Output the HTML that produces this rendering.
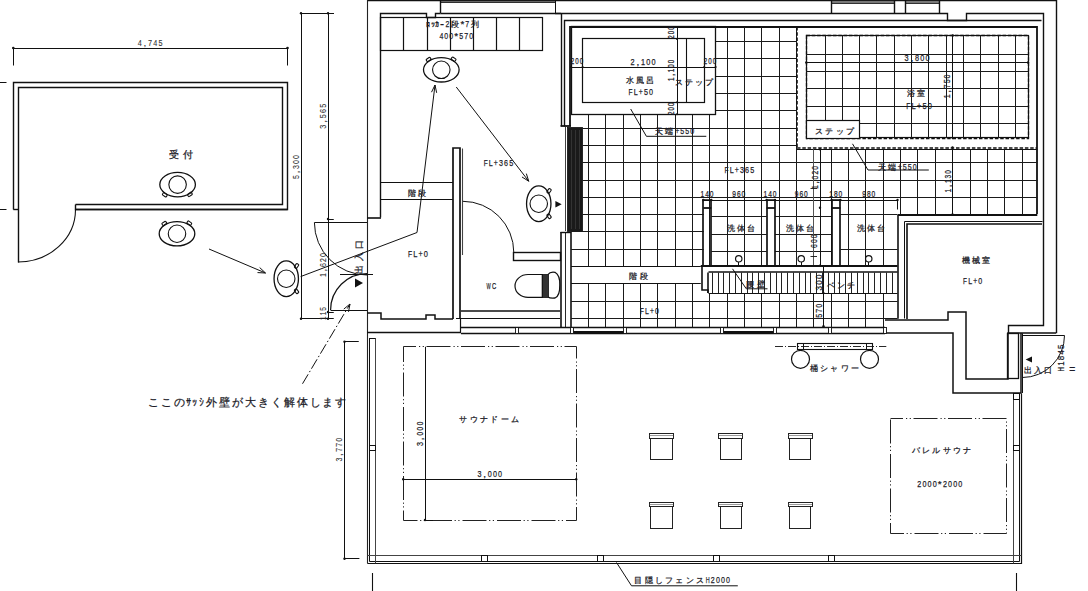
<!DOCTYPE html>
<html><head><meta charset="utf-8"><style>
html,body{margin:0;padding:0;background:#fff;}
svg{display:block;}
text{font-family:"Liberation Sans",sans-serif;}
</style></head><body>
<svg width="1088" height="591" viewBox="0 0 1088 591">
<rect width="1088" height="591" fill="#fff"/>
<line x1="13.3" y1="48.5" x2="287.5" y2="48.5" stroke="#111" stroke-width="1.0" />
<line x1="13.5" y1="48" x2="13.5" y2="65.5" stroke="#111" stroke-width="1.0" />
<line x1="287.5" y1="48" x2="287.5" y2="65.5" stroke="#111" stroke-width="1.0" />
<circle cx="13.3" cy="48" r="1.3" fill="#111"/>
<circle cx="287.5" cy="48" r="1.3" fill="#111"/>
<text x="150.1" y="46.09" font-size="9.97" fill="#333" stroke="#333" stroke-width="0.1" font-weight="normal" ><tspan x="137.70" font-size="9.97" textLength="4.05" lengthAdjust="spacingAndGlyphs">4</tspan><tspan x="143.53" font-size="9.97" textLength="2.77" lengthAdjust="spacingAndGlyphs">,</tspan><tspan x="148.08" font-size="9.97" textLength="4.05" lengthAdjust="spacingAndGlyphs">7</tspan><tspan x="153.26" font-size="9.97" textLength="4.05" lengthAdjust="spacingAndGlyphs">4</tspan><tspan x="158.45" font-size="9.97" textLength="4.05" lengthAdjust="spacingAndGlyphs">5</tspan></text>
<line x1="0" y1="82.5" x2="6.5" y2="82.5" stroke="#111" stroke-width="1.0" />
<line x1="0" y1="209.5" x2="6.5" y2="209.5" stroke="#111" stroke-width="1.0" />
<path d="M 13.5,209.5 V 82.5 H 287.5 V 209.5 H 75.5 V 204.5" stroke="#111" stroke-width="1.4" fill="none" />
<path d="M 18.5,262.5 V 87.5 H 282.5 V 204.5 H 75.5" stroke="#111" stroke-width="1.4" fill="none" />
<path d="M 75.5,209.5 H 287.5" stroke="#111" stroke-width="1.4" fill="none" />
<line x1="13.3" y1="209.5" x2="18" y2="209.5" stroke="#111" stroke-width="1.4" />
<path d="M75.5,209.4 A57.5,52.6 0 0 1 18,262" stroke="#111" stroke-width="1.1" fill="none" />
<text x="181.25" y="158.18" font-size="12.6" fill="#1c1c28" stroke="#1c1c28" stroke-width="0.25" font-weight="normal" ><tspan x="169.25" font-size="10.2">受</tspan><tspan x="183.05" font-size="10.2">付</tspan></text>
<rect x="162.50" y="193.40" width="4.6" height="2.8" rx="0.8" stroke="#111" stroke-width="1.1" fill="#fff" transform="rotate(35 164.79999999999998 194.79999999999998)"/>
<rect x="187.60" y="193.00" width="4.6" height="2.8" rx="0.8" stroke="#111" stroke-width="1.1" fill="#fff" transform="rotate(-35 189.9 194.4)"/>
<ellipse cx="177.6" cy="184.6" rx="17.8" ry="12.2" stroke="#111" stroke-width="1.3" fill="none"/>
<circle cx="177.6" cy="184.6" r="8.75" stroke="#111" stroke-width="1.1" fill="none"/>
<rect x="162.00" y="222.05" width="4.6" height="2.8" rx="0.8" stroke="#111" stroke-width="1.1" fill="#fff" transform="rotate(-35 164.3 223.45)"/>
<rect x="187.00" y="221.75" width="4.6" height="2.8" rx="0.8" stroke="#111" stroke-width="1.1" fill="#fff" transform="rotate(35 189.3 223.15)"/>
<ellipse cx="177" cy="233.75" rx="17.8" ry="12.2" stroke="#111" stroke-width="1.3" fill="none"/>
<circle cx="177" cy="233.75" r="8.75" stroke="#111" stroke-width="1.1" fill="none"/>
<line x1="209" y1="249" x2="265.5" y2="273" stroke="#111" stroke-width="1.0" />
<line x1="265.5" y1="273" x2="259.66" y2="267.54" stroke="#111" stroke-width="1.0" />
<line x1="265.5" y1="273" x2="257.51" y2="272.59" stroke="#111" stroke-width="1.0" />
<rect x="294.25" y="264.55" width="4.6" height="2.8" rx="0.8" stroke="#111" stroke-width="1.1" fill="#fff" transform="rotate(-55 296.55 265.95)"/>
<rect x="294.25" y="289.85" width="4.6" height="2.8" rx="0.8" stroke="#111" stroke-width="1.1" fill="#fff" transform="rotate(55 296.55 291.25)"/>
<ellipse cx="286.25" cy="278.75" rx="12.2" ry="17.8" stroke="#111" stroke-width="1.3" fill="none"/>
<circle cx="286.25" cy="278.75" r="8.75" stroke="#111" stroke-width="1.1" fill="none"/>
<line x1="301.5" y1="13.25" x2="301.5" y2="319" stroke="#111" stroke-width="1.0" />
<line x1="328.5" y1="13.25" x2="328.5" y2="319" stroke="#111" stroke-width="1.0" />
<line x1="301" y1="13.5" x2="334" y2="13.5" stroke="#111" stroke-width="1.0" />
<circle cx="301" cy="13.25" r="1.2" fill="#111"/>
<circle cx="328" cy="13.25" r="1.2" fill="#111"/>
<line x1="328" y1="219.5" x2="333.75" y2="219.5" stroke="#111" stroke-width="1.0" />
<circle cx="328" cy="219" r="1.2" fill="#111"/>
<line x1="328" y1="312.5" x2="333.75" y2="312.5" stroke="#111" stroke-width="1.0" />
<circle cx="328" cy="312" r="1.2" fill="#111"/>
<line x1="301" y1="318.5" x2="333.75" y2="318.5" stroke="#111" stroke-width="1.0" />
<circle cx="301" cy="318.75" r="1.2" fill="#111"/>
<circle cx="328" cy="318.75" r="1.2" fill="#111"/>
<text x="295.75" y="170.59" font-size="9.97" fill="#333" stroke="#333" stroke-width="0.1" font-weight="normal" transform="rotate(-90 295.75 167)" ><tspan x="283.85" font-size="9.97" textLength="3.88" lengthAdjust="spacingAndGlyphs">5</tspan><tspan x="289.39" font-size="9.97" textLength="2.77" lengthAdjust="spacingAndGlyphs">,</tspan><tspan x="293.81" font-size="9.97" textLength="3.88" lengthAdjust="spacingAndGlyphs">3</tspan><tspan x="298.79" font-size="9.97" textLength="3.88" lengthAdjust="spacingAndGlyphs">0</tspan><tspan x="303.77" font-size="9.97" textLength="3.88" lengthAdjust="spacingAndGlyphs">0</tspan></text>
<text x="322" y="119.84" font-size="9.97" fill="#333" stroke="#333" stroke-width="0.1" font-weight="normal" transform="rotate(-90 322 116.25)" ><tspan x="309.50" font-size="9.97" textLength="4.08" lengthAdjust="spacingAndGlyphs">3</tspan><tspan x="315.38" font-size="9.97" textLength="2.77" lengthAdjust="spacingAndGlyphs">,</tspan><tspan x="319.96" font-size="9.97" textLength="4.08" lengthAdjust="spacingAndGlyphs">5</tspan><tspan x="325.19" font-size="9.97" textLength="4.08" lengthAdjust="spacingAndGlyphs">6</tspan><tspan x="330.42" font-size="9.97" textLength="4.08" lengthAdjust="spacingAndGlyphs">5</tspan></text>
<text x="322.5" y="268.59" font-size="9.97" fill="#333" stroke="#333" stroke-width="0.1" font-weight="normal" transform="rotate(-90 322.5 265)" ><tspan x="310.50" font-size="9.97" textLength="3.92" lengthAdjust="spacingAndGlyphs">1</tspan><tspan x="316.09" font-size="9.97" textLength="2.77" lengthAdjust="spacingAndGlyphs">,</tspan><tspan x="320.54" font-size="9.97" textLength="3.92" lengthAdjust="spacingAndGlyphs">6</tspan><tspan x="325.56" font-size="9.97" textLength="3.92" lengthAdjust="spacingAndGlyphs">2</tspan><tspan x="330.58" font-size="9.97" textLength="3.92" lengthAdjust="spacingAndGlyphs">0</tspan></text>
<text x="322.5" y="317.09" font-size="9.97" fill="#333" stroke="#333" stroke-width="0.1" font-weight="normal" transform="rotate(-90 322.5 313.5)" ><tspan x="316.00" font-size="9.97" textLength="3.65" lengthAdjust="spacingAndGlyphs">1</tspan><tspan x="320.68" font-size="9.97" textLength="3.65" lengthAdjust="spacingAndGlyphs">1</tspan><tspan x="325.35" font-size="9.97" textLength="3.65" lengthAdjust="spacingAndGlyphs">5</tspan></text>
<line x1="367" y1="0.5" x2="1056.3" y2="0.5" stroke="#111" stroke-width="1.4" />
<line x1="367.5" y1="0" x2="367.5" y2="563.4" stroke="#222" stroke-width="1.1" />
<line x1="1056.5" y1="0" x2="1056.5" y2="333.2" stroke="#111" stroke-width="1.4" />
<path d="M 440.5,13.5 H 947.5 V 20.5 H 966.5 V 13.5 H 1043.5 V 325.5 H 1008.5 V 333.5" stroke="#111" stroke-width="1.4" fill="none" />
<path d="M 564.5,126.5 V 20.5 H 1041.5" stroke="#111" stroke-width="1.4" fill="none" />
<path d="M 570,126 V 27 H 1037 V 214" stroke="#111" stroke-width="1.8" fill="none" />
<line x1="561.5" y1="13.2" x2="561.5" y2="126" stroke="#111" stroke-width="1.4" />
<line x1="555" y1="13.5" x2="561" y2="13.5" stroke="#111" stroke-width="1.4" />
<line x1="560.5" y1="126" x2="571" y2="126" stroke="#111" stroke-width="1.8" />
<rect x="440.5" y="0.5" width="115" height="2" stroke="#111" stroke-width="0.8" fill="#666" />
<rect x="831.5" y="0.5" width="63" height="3" stroke="#111" stroke-width="0.8" fill="#777" />
<rect x="905.5" y="0.5" width="34" height="3" stroke="#111" stroke-width="0.8" fill="#777" />
<path d="M 831.5,13.5 V 0.5 M 894.5,13.5 V 0.5 M 905.5,13.5 V 0.5 M 939.5,13.5 V 0.5" stroke="#111" stroke-width="1.4" fill="none" />
<line x1="440.5" y1="0.6" x2="440.5" y2="13.2" stroke="#111" stroke-width="1.4" />
<line x1="555.5" y1="0.6" x2="555.5" y2="13.2" stroke="#111" stroke-width="1.0" />
<path d="M 380.5,217.5 V 13.5 H 426.5 V 17.5 H 435.5 V 13.5 H 440.5" stroke="#111" stroke-width="1.4" fill="none" />
<line x1="367" y1="218" x2="381" y2="218" stroke="#111" stroke-width="1.6" />
<rect x="380.5" y="17.5" width="162" height="33" stroke="#111" stroke-width="1.2" fill="none" />
<line x1="403.5" y1="17.5" x2="403.5" y2="50" stroke="#111" stroke-width="1.2" />
<line x1="427.5" y1="17.5" x2="427.5" y2="50" stroke="#111" stroke-width="1.2" />
<line x1="450.5" y1="17.5" x2="450.5" y2="50" stroke="#111" stroke-width="1.2" />
<line x1="473.5" y1="17.5" x2="473.5" y2="50" stroke="#111" stroke-width="1.2" />
<line x1="496.5" y1="17.5" x2="496.5" y2="50" stroke="#111" stroke-width="1.2" />
<line x1="519.5" y1="17.5" x2="519.5" y2="50" stroke="#111" stroke-width="1.2" />
<text x="452.5" y="26.83" font-size="9.97" fill="#1c1c28" stroke="#1c1c28" stroke-width="0.25" font-weight="normal" ><tspan x="425.62" font-size="8.07" textLength="4.04" lengthAdjust="spacingAndGlyphs">ﾛ</tspan><tspan x="430.54" font-size="8.07" textLength="4.04" lengthAdjust="spacingAndGlyphs">ｯ</tspan><tspan x="435.46" font-size="8.07" textLength="4.04" lengthAdjust="spacingAndGlyphs">ｶ</tspan><tspan x="440.39" font-size="8.07" textLength="4.04" lengthAdjust="spacingAndGlyphs">ｰ</tspan><tspan x="445.41" font-size="9.97" textLength="3.84" lengthAdjust="spacingAndGlyphs">2</tspan><tspan x="450.80" font-size="8.07">段</tspan><tspan x="460.43" font-size="9.97" textLength="3.84" lengthAdjust="spacingAndGlyphs">*</tspan><tspan x="465.35" font-size="9.97" textLength="3.84" lengthAdjust="spacingAndGlyphs">7</tspan><tspan x="470.75" font-size="8.07">列</tspan></text>
<text x="456.2" y="39.19" font-size="9.97" fill="#1c1c28" stroke="#1c1c28" stroke-width="0.25" font-weight="normal" ><tspan x="439.40" font-size="9.97" textLength="3.87" lengthAdjust="spacingAndGlyphs">4</tspan><tspan x="444.36" font-size="9.97" textLength="3.87" lengthAdjust="spacingAndGlyphs">0</tspan><tspan x="449.31" font-size="9.97" textLength="3.87" lengthAdjust="spacingAndGlyphs">0</tspan><tspan x="454.27" font-size="9.97" textLength="3.87" lengthAdjust="spacingAndGlyphs">*</tspan><tspan x="459.22" font-size="9.97" textLength="3.87" lengthAdjust="spacingAndGlyphs">5</tspan><tspan x="464.18" font-size="9.97" textLength="3.87" lengthAdjust="spacingAndGlyphs">7</tspan><tspan x="469.13" font-size="9.97" textLength="3.87" lengthAdjust="spacingAndGlyphs">0</tspan></text>
<rect x="426.30" y="58.10" width="4.6" height="2.8" rx="0.8" stroke="#111" stroke-width="1.1" fill="#fff" transform="rotate(-35 428.6 59.5)"/>
<rect x="451.30" y="57.80" width="4.6" height="2.8" rx="0.8" stroke="#111" stroke-width="1.1" fill="#fff" transform="rotate(35 453.6 59.199999999999996)"/>
<ellipse cx="441.3" cy="69.8" rx="17.8" ry="12.2" stroke="#111" stroke-width="1.3" fill="none"/>
<circle cx="441.3" cy="69.8" r="8.75" stroke="#111" stroke-width="1.1" fill="none"/>
<path d="M300.6,276.6 L417,232.5 L435,85" stroke="#111" stroke-width="1.0" fill="none" />
<line x1="435" y1="85" x2="431.51" y2="92.2" stroke="#111" stroke-width="1.0" />
<line x1="435" y1="85" x2="436.66" y2="92.83" stroke="#111" stroke-width="1.0" />
<line x1="456.25" y1="87" x2="528.75" y2="181.25" stroke="#111" stroke-width="1.0" />
<line x1="528.75" y1="181.25" x2="526.34" y2="173.62" stroke="#111" stroke-width="1.0" />
<line x1="528.75" y1="181.25" x2="521.99" y2="176.97" stroke="#111" stroke-width="1.0" />
<text x="498.4" y="165.59" font-size="9.97" fill="#1c1c28" stroke="#1c1c28" stroke-width="0.25" font-weight="normal" ><tspan x="483.70" font-size="9.97" textLength="3.97" lengthAdjust="spacingAndGlyphs">F</tspan><tspan x="488.79" font-size="9.97" textLength="3.97" lengthAdjust="spacingAndGlyphs">L</tspan><tspan x="493.87" font-size="9.97" textLength="3.97" lengthAdjust="spacingAndGlyphs">+</tspan><tspan x="498.96" font-size="9.97" textLength="3.97" lengthAdjust="spacingAndGlyphs">3</tspan><tspan x="504.05" font-size="9.97" textLength="3.97" lengthAdjust="spacingAndGlyphs">6</tspan><tspan x="509.13" font-size="9.97" textLength="3.97" lengthAdjust="spacingAndGlyphs">5</tspan></text>
<line x1="380.6" y1="182.5" x2="453" y2="182.5" stroke="#111" stroke-width="1.2" />
<line x1="380.6" y1="199.5" x2="453" y2="199.5" stroke="#111" stroke-width="1.2" />
<text x="417" y="196.03" font-size="9.97" fill="#1c1c28" stroke="#1c1c28" stroke-width="0.25" font-weight="normal" ><tspan x="407.65" font-size="8.07">階</tspan><tspan x="418.28" font-size="8.07">段</tspan></text>
<text x="418" y="257.34" font-size="9.97" fill="#1c1c28" stroke="#1c1c28" stroke-width="0.25" font-weight="normal" ><tspan x="408.00" font-size="9.97" textLength="4.13" lengthAdjust="spacingAndGlyphs">F</tspan><tspan x="413.29" font-size="9.97" textLength="4.13" lengthAdjust="spacingAndGlyphs">L</tspan><tspan x="418.58" font-size="9.97" textLength="4.13" lengthAdjust="spacingAndGlyphs">+</tspan><tspan x="423.87" font-size="9.97" textLength="4.13" lengthAdjust="spacingAndGlyphs">0</tspan></text>
<path d="M 453,319 V 148 H 460 V 319" stroke="#111" stroke-width="1.7" fill="none" />
<line x1="462.5" y1="148.5" x2="462.5" y2="255" stroke="#444" stroke-width="1.1" />
<path d="M462.9,201.3 A51,51.2 0 0 1 513.8,252.5" stroke="#111" stroke-width="1.0" fill="none" />
<rect x="513.5" y="252.5" width="47" height="8" stroke="#111" stroke-width="1.4" fill="none" />
<line x1="561" y1="232" x2="561" y2="327.3" stroke="#111" stroke-width="1.6" />
<line x1="565.5" y1="232" x2="565.5" y2="327.3" stroke="#111" stroke-width="0.9" />
<line x1="571" y1="232" x2="571" y2="327.3" stroke="#111" stroke-width="1.6" />
<line x1="560.5" y1="232.5" x2="571" y2="232.5" stroke="#111" stroke-width="1.4" />
<rect x="567.5" y="127.5" width="15" height="104" stroke="#111" stroke-width="0.8" fill="#1a1a1a" />
<line x1="571.5" y1="130" x2="571.5" y2="229" stroke="#444" stroke-width="0.6" />
<line x1="575.5" y1="130" x2="575.5" y2="229" stroke="#444" stroke-width="0.6" />
<line x1="579.5" y1="130" x2="579.5" y2="229" stroke="#444" stroke-width="0.6" />
<line x1="565.5" y1="127" x2="565.5" y2="231" stroke="#111" stroke-width="0.8" />
<rect x="546.75" y="189.55" width="4.6" height="2.8" rx="0.8" stroke="#111" stroke-width="1.1" fill="#fff" transform="rotate(-55 549.05 190.95)"/>
<rect x="546.75" y="214.85" width="4.6" height="2.8" rx="0.8" stroke="#111" stroke-width="1.1" fill="#fff" transform="rotate(55 549.05 216.25)"/>
<ellipse cx="538.75" cy="203.75" rx="12.2" ry="17.8" stroke="#111" stroke-width="1.3" fill="none"/>
<circle cx="538.75" cy="203.75" r="8.75" stroke="#111" stroke-width="1.1" fill="none"/>
<path d="M555.4,201 L561.7,204.3 L555.4,207.6 Z" fill="#111"/>
<line x1="461" y1="311" x2="560" y2="311" stroke="#111" stroke-width="1.7" />
<line x1="456" y1="318.5" x2="560" y2="318.5" stroke="#111" stroke-width="1.2" />
<path d="M542.3,274.5 H528 A13,11.4 0 0 0 528,297.3 H542.3 Z" stroke="#111" stroke-width="1.2" fill="none" />
<rect x="542.5" y="274.5" width="6" height="23" stroke="#111" stroke-width="0.8" fill="#333" />
<path d="M548,274.5 Q550,271.5 555,272.3 Q560,275 559.8,285 Q560,296 555,298 Q550,298.5 548,297" stroke="#111" stroke-width="1.3" fill="none" />
<text x="491.4" y="288.61" font-size="8.93" fill="#1c1c28" stroke="#1c1c28" stroke-width="0.25" font-weight="normal" ><tspan x="486.60" font-size="8.93" textLength="4.21" lengthAdjust="spacingAndGlyphs">W</tspan><tspan x="491.99" font-size="8.93" textLength="4.21" lengthAdjust="spacingAndGlyphs">C</tspan></text>
<path d="M 367,313 H 381 V 319 H 426 V 315 H 435 V 319 H 453" stroke="#111" stroke-width="1.5" fill="none" />
<line x1="367" y1="332.5" x2="461" y2="332.5" stroke="#111" stroke-width="1.3" />
<line x1="460.5" y1="318" x2="460.5" y2="332" stroke="#111" stroke-width="1.2" />
<line x1="314.4" y1="222.5" x2="367" y2="222.5" stroke="#111" stroke-width="1.1" />
<path d="M314.4,222.5 A52.6,52.6 0 0 0 367,275" stroke="#111" stroke-width="1.0" fill="none" />
<line x1="340" y1="274.5" x2="373" y2="274.5" stroke="#111" stroke-width="1.0" />
<path d="M330.6,310 A36.4,36.4 0 0 1 367,273.6" stroke="#111" stroke-width="1.2" fill="none" />
<line x1="330.6" y1="310.5" x2="367" y2="310.5" stroke="#111" stroke-width="1.1" />
<text x="358.9" y="260.57" font-size="11.03" fill="#1c1c28" stroke="#1c1c28" stroke-width="0.25" font-weight="normal" transform="rotate(-90 358.9 257)" ><tspan x="341.68" font-size="8.92">出</tspan><tspan x="354.44" font-size="8.92">入</tspan><tspan x="367.20" font-size="8.92">口</tspan></text>
<path d="M355,278.5 L363,283 L355,287.5 Z" fill="#111"/>
<line x1="302.5" y1="383.75" x2="350" y2="304" stroke="#111" stroke-width="1.0" stroke-dasharray="11,2.5,1.5,2.5"/>
<line x1="350" y1="304" x2="343.8" y2="309.05" stroke="#111" stroke-width="1.0" />
<line x1="350" y1="304" x2="348.51" y2="311.86" stroke="#111" stroke-width="1.0" />
<text x="247.1" y="406.42" font-size="13.65" fill="#1c1c28" stroke="#1c1c28" stroke-width="0.25" font-weight="normal" ><tspan x="147.67" font-size="11.05">こ</tspan><tspan x="160.66" font-size="11.05">こ</tspan><tspan x="173.64" font-size="11.05">の</tspan><tspan x="186.06" font-size="11.05" textLength="5.53" lengthAdjust="spacingAndGlyphs">ｻ</tspan><tspan x="192.40" font-size="11.05" textLength="5.53" lengthAdjust="spacingAndGlyphs">ｯ</tspan><tspan x="198.73" font-size="11.05" textLength="5.53" lengthAdjust="spacingAndGlyphs">ｼ</tspan><tspan x="205.63" font-size="11.05">外</tspan><tspan x="218.61" font-size="11.05">壁</tspan><tspan x="231.60" font-size="11.05">が</tspan><tspan x="244.58" font-size="11.05">大</tspan><tspan x="257.57" font-size="11.05">き</tspan><tspan x="270.55" font-size="11.05">く</tspan><tspan x="283.54" font-size="11.05">解</tspan><tspan x="296.52" font-size="11.05">体</tspan><tspan x="309.51" font-size="11.05">し</tspan><tspan x="322.49" font-size="11.05">ま</tspan><tspan x="335.48" font-size="11.05">す</tspan></text>
<line x1="588.5" y1="114.2" x2="588.5" y2="266.7" stroke="#1a1a1a" stroke-width="1.0" />
<line x1="588.5" y1="283.75" x2="588.5" y2="327.5" stroke="#1a1a1a" stroke-width="1.0" />
<line x1="605.5" y1="114.2" x2="605.5" y2="266.7" stroke="#1a1a1a" stroke-width="1.0" />
<line x1="605.5" y1="283.75" x2="605.5" y2="327.5" stroke="#1a1a1a" stroke-width="1.0" />
<line x1="623.5" y1="114.2" x2="623.5" y2="266.7" stroke="#1a1a1a" stroke-width="1.0" />
<line x1="623.5" y1="283.75" x2="623.5" y2="327.5" stroke="#1a1a1a" stroke-width="1.0" />
<line x1="640.5" y1="114.2" x2="640.5" y2="266.7" stroke="#1a1a1a" stroke-width="1.0" />
<line x1="640.5" y1="283.75" x2="640.5" y2="327.5" stroke="#1a1a1a" stroke-width="1.0" />
<line x1="657.5" y1="114.2" x2="657.5" y2="266.7" stroke="#1a1a1a" stroke-width="1.0" />
<line x1="657.5" y1="283.75" x2="657.5" y2="327.5" stroke="#1a1a1a" stroke-width="1.0" />
<line x1="675.5" y1="114.2" x2="675.5" y2="266.7" stroke="#1a1a1a" stroke-width="1.0" />
<line x1="675.5" y1="283.75" x2="675.5" y2="327.5" stroke="#1a1a1a" stroke-width="1.0" />
<line x1="692.5" y1="114.2" x2="692.5" y2="266.7" stroke="#1a1a1a" stroke-width="1.0" />
<line x1="692.5" y1="283.75" x2="692.5" y2="327.5" stroke="#1a1a1a" stroke-width="1.0" />
<line x1="709.5" y1="114.2" x2="709.5" y2="266" stroke="#1a1a1a" stroke-width="1.0" />
<line x1="709.5" y1="293.75" x2="709.5" y2="327.5" stroke="#1a1a1a" stroke-width="1.0" />
<line x1="727.5" y1="26.9" x2="727.5" y2="266" stroke="#1a1a1a" stroke-width="1.0" />
<line x1="727.5" y1="293.75" x2="727.5" y2="327.5" stroke="#1a1a1a" stroke-width="1.0" />
<line x1="744.5" y1="26.9" x2="744.5" y2="266" stroke="#1a1a1a" stroke-width="1.0" />
<line x1="744.5" y1="293.75" x2="744.5" y2="327.5" stroke="#1a1a1a" stroke-width="1.0" />
<line x1="761.5" y1="26.9" x2="761.5" y2="266" stroke="#1a1a1a" stroke-width="1.0" />
<line x1="761.5" y1="293.75" x2="761.5" y2="327.5" stroke="#1a1a1a" stroke-width="1.0" />
<line x1="779.5" y1="26.9" x2="779.5" y2="266" stroke="#1a1a1a" stroke-width="1.0" />
<line x1="779.5" y1="293.75" x2="779.5" y2="327.5" stroke="#1a1a1a" stroke-width="1.0" />
<line x1="796.5" y1="26.9" x2="796.5" y2="266" stroke="#1a1a1a" stroke-width="1.0" />
<line x1="796.5" y1="293.75" x2="796.5" y2="327.5" stroke="#1a1a1a" stroke-width="1.0" />
<line x1="813.5" y1="293.75" x2="813.5" y2="327.5" stroke="#1a1a1a" stroke-width="1.0" />
<line x1="831.5" y1="149.3" x2="831.5" y2="266" stroke="#1a1a1a" stroke-width="1.0" />
<line x1="831.5" y1="293.75" x2="831.5" y2="327.5" stroke="#1a1a1a" stroke-width="1.0" />
<line x1="848.5" y1="149.3" x2="848.5" y2="266" stroke="#1a1a1a" stroke-width="1.0" />
<line x1="848.5" y1="293.75" x2="848.5" y2="327.5" stroke="#1a1a1a" stroke-width="1.0" />
<line x1="865.5" y1="149.3" x2="865.5" y2="266" stroke="#1a1a1a" stroke-width="1.0" />
<line x1="865.5" y1="293.75" x2="865.5" y2="327.5" stroke="#1a1a1a" stroke-width="1.0" />
<line x1="883.5" y1="149.3" x2="883.5" y2="266" stroke="#1a1a1a" stroke-width="1.0" />
<line x1="883.5" y1="293.75" x2="883.5" y2="327.5" stroke="#1a1a1a" stroke-width="1.0" />
<line x1="900.5" y1="149.3" x2="900.5" y2="214.5" stroke="#1a1a1a" stroke-width="1.0" />
<line x1="917.5" y1="149.3" x2="917.5" y2="214.5" stroke="#1a1a1a" stroke-width="1.0" />
<line x1="935.5" y1="149.3" x2="935.5" y2="214.5" stroke="#1a1a1a" stroke-width="1.0" />
<line x1="952.5" y1="149.3" x2="952.5" y2="214.5" stroke="#1a1a1a" stroke-width="1.0" />
<line x1="970.5" y1="149.3" x2="970.5" y2="214.5" stroke="#1a1a1a" stroke-width="1.0" />
<line x1="987.5" y1="149.3" x2="987.5" y2="214.5" stroke="#1a1a1a" stroke-width="1.0" />
<line x1="1004.5" y1="149.3" x2="1004.5" y2="214.5" stroke="#1a1a1a" stroke-width="1.0" />
<line x1="1022.5" y1="149.3" x2="1022.5" y2="214.5" stroke="#1a1a1a" stroke-width="1.0" />
<line x1="716" y1="41.5" x2="797" y2="41.5" stroke="#1a1a1a" stroke-width="1.0" />
<line x1="716" y1="58.5" x2="797" y2="58.5" stroke="#1a1a1a" stroke-width="1.0" />
<line x1="716" y1="76.5" x2="797" y2="76.5" stroke="#1a1a1a" stroke-width="1.0" />
<line x1="716" y1="93.5" x2="797" y2="93.5" stroke="#1a1a1a" stroke-width="1.0" />
<line x1="716" y1="110.5" x2="797" y2="110.5" stroke="#1a1a1a" stroke-width="1.0" />
<line x1="582.6" y1="128.5" x2="797" y2="128.5" stroke="#1a1a1a" stroke-width="1.0" />
<line x1="582.6" y1="145.5" x2="797" y2="145.5" stroke="#1a1a1a" stroke-width="1.0" />
<line x1="582.6" y1="162.5" x2="1037.3" y2="162.5" stroke="#1a1a1a" stroke-width="1.0" />
<line x1="582.6" y1="180.5" x2="1037.3" y2="180.5" stroke="#1a1a1a" stroke-width="1.0" />
<line x1="582.6" y1="197.5" x2="1037.3" y2="197.5" stroke="#1a1a1a" stroke-width="1.0" />
<line x1="582.6" y1="214.5" x2="703.75" y2="214.5" stroke="#1a1a1a" stroke-width="1.0" />
<line x1="571" y1="231.5" x2="703.75" y2="231.5" stroke="#1a1a1a" stroke-width="1.0" />
<line x1="571" y1="249.5" x2="703.75" y2="249.5" stroke="#1a1a1a" stroke-width="1.0" />
<line x1="571" y1="301.5" x2="897.5" y2="301.5" stroke="#1a1a1a" stroke-width="1.0" />
<line x1="571" y1="318.5" x2="897.5" y2="318.5" stroke="#1a1a1a" stroke-width="1.0" />
<line x1="711.3" y1="216.5" x2="766.6" y2="216.5" stroke="#1a1a1a" stroke-width="1.0" />
<line x1="775" y1="216.5" x2="831.6" y2="216.5" stroke="#1a1a1a" stroke-width="1.0" />
<line x1="711.3" y1="234.5" x2="766.6" y2="234.5" stroke="#1a1a1a" stroke-width="1.0" />
<line x1="775" y1="234.5" x2="831.6" y2="234.5" stroke="#1a1a1a" stroke-width="1.0" />
<line x1="711.3" y1="251.5" x2="766.6" y2="251.5" stroke="#1a1a1a" stroke-width="1.0" />
<line x1="775" y1="251.5" x2="831.6" y2="251.5" stroke="#1a1a1a" stroke-width="1.0" />
<line x1="840.4" y1="214.5" x2="897.5" y2="214.5" stroke="#1a1a1a" stroke-width="1.0" />
<line x1="840.4" y1="249.5" x2="897.5" y2="249.5" stroke="#1a1a1a" stroke-width="1.0" />
<line x1="897.9" y1="215" x2="1037.3" y2="215" stroke="#111" stroke-width="1.8" />
<line x1="571" y1="266.5" x2="700.75" y2="266.5" stroke="#111" stroke-width="1.2" />
<line x1="571" y1="283.5" x2="700.75" y2="283.5" stroke="#111" stroke-width="1.2" />
<text x="638.1" y="278.73" font-size="9.97" fill="#1c1c28" stroke="#1c1c28" stroke-width="0.25" font-weight="normal" ><tspan x="628.53" font-size="8.07">階</tspan><tspan x="639.60" font-size="8.07">段</tspan></text>
<text x="649.4" y="314.34" font-size="9.97" fill="#1c1c28" stroke="#1c1c28" stroke-width="0.25" font-weight="normal" ><tspan x="640.02" font-size="9.97" textLength="3.87" lengthAdjust="spacingAndGlyphs">F</tspan><tspan x="644.99" font-size="9.97" textLength="3.87" lengthAdjust="spacingAndGlyphs">L</tspan><tspan x="649.95" font-size="9.97" textLength="3.87" lengthAdjust="spacingAndGlyphs">+</tspan><tspan x="654.91" font-size="9.97" textLength="3.87" lengthAdjust="spacingAndGlyphs">0</tspan></text>
<text x="739.4" y="173.09" font-size="9.97" fill="#1c1c28" stroke="#1c1c28" stroke-width="0.25" font-weight="normal" ><tspan x="724.52" font-size="9.97" textLength="4.01" lengthAdjust="spacingAndGlyphs">F</tspan><tspan x="729.67" font-size="9.97" textLength="4.01" lengthAdjust="spacingAndGlyphs">L</tspan><tspan x="734.82" font-size="9.97" textLength="4.01" lengthAdjust="spacingAndGlyphs">+</tspan><tspan x="739.97" font-size="9.97" textLength="4.01" lengthAdjust="spacingAndGlyphs">3</tspan><tspan x="745.11" font-size="9.97" textLength="4.01" lengthAdjust="spacingAndGlyphs">6</tspan><tspan x="750.26" font-size="9.97" textLength="4.01" lengthAdjust="spacingAndGlyphs">5</tspan></text>
<rect x="571.5" y="26.5" width="144" height="88" stroke="#111" stroke-width="1.3" fill="none" />
<rect x="582.5" y="38.5" width="122" height="64" stroke="#111" stroke-width="1.2" fill="none" />
<line x1="677.5" y1="26.9" x2="677.5" y2="114.2" stroke="#111" stroke-width="1.0" />
<line x1="686.5" y1="38.9" x2="686.5" y2="102.3" stroke="#111" stroke-width="1.1" />
<line x1="571" y1="67.5" x2="715.6" y2="67.5" stroke="#111" stroke-width="1.0" />
<circle cx="571" cy="67" r="1.0" fill="#111"/>
<circle cx="582.6" cy="67" r="1.0" fill="#111"/>
<circle cx="704.2" cy="67" r="1.0" fill="#111"/>
<circle cx="715.6" cy="67" r="1.0" fill="#111"/>
<circle cx="677" cy="38.9" r="1.0" fill="#111"/>
<circle cx="677" cy="102.3" r="1.0" fill="#111"/>
<circle cx="677" cy="26.9" r="1.0" fill="#111"/>
<circle cx="677" cy="114.2" r="1.0" fill="#111"/>
<text x="577" y="64.41" font-size="8.93" fill="#1c1c28" stroke="#1c1c28" stroke-width="0.25" font-weight="normal" ><tspan x="570.86" font-size="8.93" textLength="3.45" lengthAdjust="spacingAndGlyphs">2</tspan><tspan x="575.28" font-size="8.93" textLength="3.45" lengthAdjust="spacingAndGlyphs">0</tspan><tspan x="579.70" font-size="8.93" textLength="3.45" lengthAdjust="spacingAndGlyphs">0</tspan></text>
<text x="643" y="64.79" font-size="9.97" fill="#1c1c28" stroke="#1c1c28" stroke-width="0.25" font-weight="normal" ><tspan x="630.50" font-size="9.97" textLength="4.08" lengthAdjust="spacingAndGlyphs">2</tspan><tspan x="636.38" font-size="9.97" textLength="2.77" lengthAdjust="spacingAndGlyphs">,</tspan><tspan x="640.96" font-size="9.97" textLength="4.08" lengthAdjust="spacingAndGlyphs">1</tspan><tspan x="646.19" font-size="9.97" textLength="4.08" lengthAdjust="spacingAndGlyphs">0</tspan><tspan x="651.42" font-size="9.97" textLength="4.08" lengthAdjust="spacingAndGlyphs">0</tspan></text>
<text x="710" y="64.41" font-size="8.93" fill="#1c1c28" stroke="#1c1c28" stroke-width="0.25" font-weight="normal" ><tspan x="703.86" font-size="8.93" textLength="3.45" lengthAdjust="spacingAndGlyphs">2</tspan><tspan x="708.28" font-size="8.93" textLength="3.45" lengthAdjust="spacingAndGlyphs">0</tspan><tspan x="712.70" font-size="8.93" textLength="3.45" lengthAdjust="spacingAndGlyphs">0</tspan></text>
<text x="671" y="35.71" font-size="8.93" fill="#1c1c28" stroke="#1c1c28" stroke-width="0.25" font-weight="normal" transform="rotate(-90 671 32.5)" ><tspan x="664.86" font-size="8.93" textLength="3.45" lengthAdjust="spacingAndGlyphs">2</tspan><tspan x="669.28" font-size="8.93" textLength="3.45" lengthAdjust="spacingAndGlyphs">0</tspan><tspan x="673.70" font-size="8.93" textLength="3.45" lengthAdjust="spacingAndGlyphs">0</tspan></text>
<text x="670.5" y="73.61" font-size="8.93" fill="#1c1c28" stroke="#1c1c28" stroke-width="0.25" font-weight="normal" transform="rotate(-90 670.5 70.4)" ><tspan x="659.94" font-size="8.93" textLength="3.45" lengthAdjust="spacingAndGlyphs">1</tspan><tspan x="664.84" font-size="8.93" textLength="2.48" lengthAdjust="spacingAndGlyphs">,</tspan><tspan x="668.78" font-size="8.93" textLength="3.45" lengthAdjust="spacingAndGlyphs">1</tspan><tspan x="673.20" font-size="8.93" textLength="3.45" lengthAdjust="spacingAndGlyphs">0</tspan><tspan x="677.62" font-size="8.93" textLength="3.45" lengthAdjust="spacingAndGlyphs">0</tspan></text>
<text x="671" y="112.01" font-size="8.93" fill="#1c1c28" stroke="#1c1c28" stroke-width="0.25" font-weight="normal" transform="rotate(-90 671 108.8)" ><tspan x="664.86" font-size="8.93" textLength="3.45" lengthAdjust="spacingAndGlyphs">2</tspan><tspan x="669.28" font-size="8.93" textLength="3.45" lengthAdjust="spacingAndGlyphs">0</tspan><tspan x="673.70" font-size="8.93" textLength="3.45" lengthAdjust="spacingAndGlyphs">0</tspan></text>
<text x="640.1" y="83.23" font-size="9.97" fill="#1c1c28" stroke="#1c1c28" stroke-width="0.25" font-weight="normal" ><tspan x="625.78" font-size="8.07">水</tspan><tspan x="636.07" font-size="8.07">風</tspan><tspan x="646.35" font-size="8.07">呂</tspan></text>
<text x="640.8" y="94.89" font-size="9.97" fill="#1c1c28" stroke="#1c1c28" stroke-width="0.25" font-weight="normal" ><tspan x="628.60" font-size="9.97" textLength="3.98" lengthAdjust="spacingAndGlyphs">F</tspan><tspan x="633.70" font-size="9.97" textLength="3.98" lengthAdjust="spacingAndGlyphs">L</tspan><tspan x="638.81" font-size="9.97" textLength="3.98" lengthAdjust="spacingAndGlyphs">+</tspan><tspan x="643.91" font-size="9.97" textLength="3.98" lengthAdjust="spacingAndGlyphs">5</tspan><tspan x="649.02" font-size="9.97" textLength="3.98" lengthAdjust="spacingAndGlyphs">0</tspan></text>
<text x="693.75" y="85.23" font-size="9.97" fill="#1c1c28" stroke="#1c1c28" stroke-width="0.25" font-weight="normal" ><tspan x="674.80" font-size="8.07">ス</tspan><tspan x="684.74" font-size="8.07">テ</tspan><tspan x="694.69" font-size="8.07">ッ</tspan><tspan x="704.63" font-size="8.07">プ</tspan></text>
<path d="M630.7,109 L646.4,136.3 H706.3" stroke="#111" stroke-width="1.0" fill="none" />
<text x="674.4" y="134.03" font-size="9.97" fill="#1c1c28" stroke="#1c1c28" stroke-width="0.25" font-weight="normal" ><tspan x="655.20" font-size="8.07">天</tspan><tspan x="665.48" font-size="8.07">端</tspan><tspan x="675.20" font-size="9.97" textLength="3.91" lengthAdjust="spacingAndGlyphs">+</tspan><tspan x="680.21" font-size="9.97" textLength="3.91" lengthAdjust="spacingAndGlyphs">5</tspan><tspan x="685.23" font-size="9.97" textLength="3.91" lengthAdjust="spacingAndGlyphs">5</tspan><tspan x="690.24" font-size="9.97" textLength="3.91" lengthAdjust="spacingAndGlyphs">0</tspan></text>
<path d="M 797,148 H 1037" stroke="#111" stroke-width="1.6" fill="none" stroke-dasharray="3.5,1.8"/>
<line x1="797" y1="26.9" x2="797" y2="147.6" stroke="#111" stroke-width="1.6" stroke-dasharray="3.5,1.8"/>
<line x1="797" y1="149.5" x2="1037.3" y2="149.5" stroke="#111" stroke-width="1.0" />
<rect x="806.5" y="35.5" width="222" height="102" stroke="#111" stroke-width="1.2" fill="none" />
<rect x="806.5" y="35.5" width="222" height="103" stroke="#111" stroke-width="1.3" fill="none" stroke-dasharray="3.5,1.8"/>
<line x1="825.5" y1="35.5" x2="825.5" y2="120" stroke="#1a1a1a" stroke-width="1.0" />
<line x1="842.5" y1="35.5" x2="842.5" y2="120" stroke="#1a1a1a" stroke-width="1.0" />
<line x1="859.5" y1="35.5" x2="859.5" y2="138.1" stroke="#1a1a1a" stroke-width="1.0" />
<line x1="876.5" y1="35.5" x2="876.5" y2="138.1" stroke="#1a1a1a" stroke-width="1.0" />
<line x1="894.5" y1="35.5" x2="894.5" y2="138.1" stroke="#1a1a1a" stroke-width="1.0" />
<line x1="911.5" y1="35.5" x2="911.5" y2="138.1" stroke="#1a1a1a" stroke-width="1.0" />
<line x1="928.5" y1="35.5" x2="928.5" y2="138.1" stroke="#1a1a1a" stroke-width="1.0" />
<line x1="946.5" y1="35.5" x2="946.5" y2="138.1" stroke="#1a1a1a" stroke-width="1.0" />
<line x1="963.5" y1="35.5" x2="963.5" y2="138.1" stroke="#1a1a1a" stroke-width="1.0" />
<line x1="980.5" y1="35.5" x2="980.5" y2="138.1" stroke="#1a1a1a" stroke-width="1.0" />
<line x1="998.5" y1="35.5" x2="998.5" y2="138.1" stroke="#1a1a1a" stroke-width="1.0" />
<line x1="1015.5" y1="35.5" x2="1015.5" y2="138.1" stroke="#1a1a1a" stroke-width="1.0" />
<line x1="806.3" y1="54.5" x2="1028" y2="54.5" stroke="#1a1a1a" stroke-width="1.0" />
<line x1="806.3" y1="71.5" x2="1028" y2="71.5" stroke="#1a1a1a" stroke-width="1.0" />
<line x1="806.3" y1="88.5" x2="1028" y2="88.5" stroke="#1a1a1a" stroke-width="1.0" />
<line x1="806.3" y1="106.5" x2="1028" y2="106.5" stroke="#1a1a1a" stroke-width="1.0" />
<line x1="859.3" y1="123.5" x2="1028" y2="123.5" stroke="#1a1a1a" stroke-width="1.0" />
<line x1="806.3" y1="62.5" x2="1028" y2="62.5" stroke="#111" stroke-width="1.0" />
<line x1="952.5" y1="35.5" x2="952.5" y2="138.1" stroke="#111" stroke-width="1.0" />
<circle cx="952.8" cy="35.5" r="1.2" fill="#111"/>
<circle cx="952.8" cy="138.1" r="1.2" fill="#111"/>
<circle cx="806.3" cy="62.5" r="1.2" fill="#111"/>
<circle cx="1028" cy="62.5" r="1.2" fill="#111"/>
<rect x="806.5" y="120.5" width="53" height="18" stroke="#111" stroke-width="1.2" fill="#fff" />
<text x="834.4" y="133.83" font-size="9.97" fill="#1c1c28" stroke="#1c1c28" stroke-width="0.25" font-weight="normal" ><tspan x="814.83" font-size="8.07">ス</tspan><tspan x="825.19" font-size="8.07">テ</tspan><tspan x="835.54" font-size="8.07">ッ</tspan><tspan x="845.90" font-size="8.07">プ</tspan></text>
<text x="917" y="60.59" font-size="9.97" fill="#1c1c28" stroke="#1c1c28" stroke-width="0.25" font-weight="normal" ><tspan x="904.50" font-size="9.97" textLength="4.08" lengthAdjust="spacingAndGlyphs">3</tspan><tspan x="910.38" font-size="9.97" textLength="2.77" lengthAdjust="spacingAndGlyphs">,</tspan><tspan x="914.96" font-size="9.97" textLength="4.08" lengthAdjust="spacingAndGlyphs">8</tspan><tspan x="920.19" font-size="9.97" textLength="4.08" lengthAdjust="spacingAndGlyphs">0</tspan><tspan x="925.42" font-size="9.97" textLength="4.08" lengthAdjust="spacingAndGlyphs">0</tspan></text>
<text x="946.8" y="89.99" font-size="9.97" fill="#1c1c28" stroke="#1c1c28" stroke-width="0.25" font-weight="normal" transform="rotate(-90 946.8 86.4)" ><tspan x="934.92" font-size="9.97" textLength="3.88" lengthAdjust="spacingAndGlyphs">1</tspan><tspan x="940.45" font-size="9.97" textLength="2.77" lengthAdjust="spacingAndGlyphs">,</tspan><tspan x="944.86" font-size="9.97" textLength="3.88" lengthAdjust="spacingAndGlyphs">7</tspan><tspan x="949.83" font-size="9.97" textLength="3.88" lengthAdjust="spacingAndGlyphs">5</tspan><tspan x="954.80" font-size="9.97" textLength="3.88" lengthAdjust="spacingAndGlyphs">0</tspan></text>
<text x="916.25" y="95.73" font-size="9.97" fill="#1c1c28" stroke="#1c1c28" stroke-width="0.25" font-weight="normal" ><tspan x="907.30" font-size="8.07">浴</tspan><tspan x="917.13" font-size="8.07">室</tspan></text>
<text x="919.1" y="109.09" font-size="9.97" fill="#1c1c28" stroke="#1c1c28" stroke-width="0.25" font-weight="normal" ><tspan x="906.23" font-size="9.97" textLength="4.20" lengthAdjust="spacingAndGlyphs">F</tspan><tspan x="911.61" font-size="9.97" textLength="4.20" lengthAdjust="spacingAndGlyphs">L</tspan><tspan x="917.00" font-size="9.97" textLength="4.20" lengthAdjust="spacingAndGlyphs">+</tspan><tspan x="922.39" font-size="9.97" textLength="4.20" lengthAdjust="spacingAndGlyphs">5</tspan><tspan x="927.77" font-size="9.97" textLength="4.20" lengthAdjust="spacingAndGlyphs">0</tspan></text>
<path d="M852.5,143.8 L868,170 H928.8" stroke="#111" stroke-width="1.0" fill="none" />
<text x="896.9" y="169.53" font-size="9.97" fill="#1c1c28" stroke="#1c1c28" stroke-width="0.25" font-weight="normal" ><tspan x="877.70" font-size="8.07">天</tspan><tspan x="887.98" font-size="8.07">端</tspan><tspan x="897.70" font-size="9.97" textLength="3.91" lengthAdjust="spacingAndGlyphs">+</tspan><tspan x="902.71" font-size="9.97" textLength="3.91" lengthAdjust="spacingAndGlyphs">5</tspan><tspan x="907.73" font-size="9.97" textLength="3.91" lengthAdjust="spacingAndGlyphs">5</tspan><tspan x="912.74" font-size="9.97" textLength="3.91" lengthAdjust="spacingAndGlyphs">0</tspan></text>
<line x1="952.5" y1="147.5" x2="952.5" y2="214.5" stroke="#111" stroke-width="1.0" />
<circle cx="952.5" cy="147.5" r="1.2" fill="#111"/>
<circle cx="952.5" cy="214.5" r="1.2" fill="#111"/>
<text x="947.5" y="184.84" font-size="9.97" fill="#1c1c28" stroke="#1c1c28" stroke-width="0.25" font-weight="normal" transform="rotate(-90 947.5 181.25)" ><tspan x="936.25" font-size="9.97" textLength="3.67" lengthAdjust="spacingAndGlyphs">1</tspan><tspan x="941.41" font-size="9.97" textLength="2.77" lengthAdjust="spacingAndGlyphs">,</tspan><tspan x="945.66" font-size="9.97" textLength="3.67" lengthAdjust="spacingAndGlyphs">1</tspan><tspan x="950.37" font-size="9.97" textLength="3.67" lengthAdjust="spacingAndGlyphs">3</tspan><tspan x="955.08" font-size="9.97" textLength="3.67" lengthAdjust="spacingAndGlyphs">0</tspan></text>
<line x1="703.3" y1="200.5" x2="897.5" y2="200.5" stroke="#111" stroke-width="1.1" />
<line x1="897.5" y1="200" x2="897.5" y2="209.5" stroke="#111" stroke-width="1.0" />
<circle cx="897.5" cy="200" r="1.2" fill="#111"/>
<path d="M 703,266 V 200 H 711 V 266" stroke="#111" stroke-width="1.7" fill="none" />
<line x1="703.3" y1="208" x2="711.3" y2="208" stroke="#111" stroke-width="1.8" />
<circle cx="703.3" cy="200" r="1.2" fill="#111"/>
<circle cx="711.3" cy="200" r="1.2" fill="#111"/>
<path d="M 767,266 V 200 H 775 V 266" stroke="#111" stroke-width="1.7" fill="none" />
<line x1="766.6" y1="208" x2="775" y2="208" stroke="#111" stroke-width="1.8" />
<circle cx="766.6" cy="200" r="1.2" fill="#111"/>
<circle cx="775" cy="200" r="1.2" fill="#111"/>
<path d="M 832,266 V 200 H 840 V 266" stroke="#111" stroke-width="1.7" fill="none" />
<line x1="831.6" y1="208" x2="840.4" y2="208" stroke="#111" stroke-width="1.8" />
<circle cx="831.6" cy="200" r="1.2" fill="#111"/>
<circle cx="840.4" cy="200" r="1.2" fill="#111"/>
<text x="707" y="197.40" font-size="9.45" fill="#1c1c28" stroke="#1c1c28" stroke-width="0.25" font-weight="normal" ><tspan x="700.45" font-size="9.45" textLength="3.68" lengthAdjust="spacingAndGlyphs">1</tspan><tspan x="705.16" font-size="9.45" textLength="3.68" lengthAdjust="spacingAndGlyphs">4</tspan><tspan x="709.87" font-size="9.45" textLength="3.68" lengthAdjust="spacingAndGlyphs">0</tspan></text>
<text x="738.75" y="197.40" font-size="9.45" fill="#1c1c28" stroke="#1c1c28" stroke-width="0.25" font-weight="normal" ><tspan x="732.20" font-size="9.45" textLength="3.68" lengthAdjust="spacingAndGlyphs">9</tspan><tspan x="736.91" font-size="9.45" textLength="3.68" lengthAdjust="spacingAndGlyphs">6</tspan><tspan x="741.62" font-size="9.45" textLength="3.68" lengthAdjust="spacingAndGlyphs">0</tspan></text>
<text x="770" y="197.40" font-size="9.45" fill="#1c1c28" stroke="#1c1c28" stroke-width="0.25" font-weight="normal" ><tspan x="763.45" font-size="9.45" textLength="3.68" lengthAdjust="spacingAndGlyphs">1</tspan><tspan x="768.16" font-size="9.45" textLength="3.68" lengthAdjust="spacingAndGlyphs">4</tspan><tspan x="772.87" font-size="9.45" textLength="3.68" lengthAdjust="spacingAndGlyphs">0</tspan></text>
<text x="801.25" y="197.40" font-size="9.45" fill="#1c1c28" stroke="#1c1c28" stroke-width="0.25" font-weight="normal" ><tspan x="794.70" font-size="9.45" textLength="3.68" lengthAdjust="spacingAndGlyphs">9</tspan><tspan x="799.41" font-size="9.45" textLength="3.68" lengthAdjust="spacingAndGlyphs">6</tspan><tspan x="804.12" font-size="9.45" textLength="3.68" lengthAdjust="spacingAndGlyphs">0</tspan></text>
<text x="835.75" y="197.40" font-size="9.45" fill="#1c1c28" stroke="#1c1c28" stroke-width="0.25" font-weight="normal" ><tspan x="829.20" font-size="9.45" textLength="3.68" lengthAdjust="spacingAndGlyphs">1</tspan><tspan x="833.91" font-size="9.45" textLength="3.68" lengthAdjust="spacingAndGlyphs">8</tspan><tspan x="838.62" font-size="9.45" textLength="3.68" lengthAdjust="spacingAndGlyphs">0</tspan></text>
<text x="868.75" y="197.40" font-size="9.45" fill="#1c1c28" stroke="#1c1c28" stroke-width="0.25" font-weight="normal" ><tspan x="862.20" font-size="9.45" textLength="3.68" lengthAdjust="spacingAndGlyphs">9</tspan><tspan x="866.91" font-size="9.45" textLength="3.68" lengthAdjust="spacingAndGlyphs">8</tspan><tspan x="871.62" font-size="9.45" textLength="3.68" lengthAdjust="spacingAndGlyphs">0</tspan></text>
<text x="740.75" y="230.73" font-size="9.97" fill="#1c1c28" stroke="#1c1c28" stroke-width="0.25" font-weight="normal" ><tspan x="726.80" font-size="8.07">洗</tspan><tspan x="736.72" font-size="8.07">体</tspan><tspan x="746.63" font-size="8.07">台</tspan></text>
<text x="800" y="230.73" font-size="9.97" fill="#1c1c28" stroke="#1c1c28" stroke-width="0.25" font-weight="normal" ><tspan x="786.05" font-size="8.07">洗</tspan><tspan x="795.97" font-size="8.07">体</tspan><tspan x="805.88" font-size="8.07">台</tspan></text>
<text x="870.75" y="230.73" font-size="9.97" fill="#1c1c28" stroke="#1c1c28" stroke-width="0.25" font-weight="normal" ><tspan x="856.80" font-size="8.07">洗</tspan><tspan x="866.72" font-size="8.07">体</tspan><tspan x="876.63" font-size="8.07">台</tspan></text>
<circle cx="738.75" cy="258.8" r="3.2" stroke="#111" stroke-width="1.2" fill="none"/>
<line x1="738.5" y1="262" x2="738.5" y2="266" stroke="#111" stroke-width="1.0" />
<circle cx="801.25" cy="258.8" r="3.2" stroke="#111" stroke-width="1.2" fill="none"/>
<line x1="801.5" y1="262" x2="801.5" y2="266" stroke="#111" stroke-width="1.0" />
<circle cx="868.75" cy="258.8" r="3.2" stroke="#111" stroke-width="1.2" fill="none"/>
<line x1="868.5" y1="262" x2="868.5" y2="266" stroke="#111" stroke-width="1.0" />
<line x1="813.5" y1="149.3" x2="813.5" y2="266" stroke="#555" stroke-width="1.0" />
<line x1="820.5" y1="149.3" x2="820.5" y2="266" stroke="#111" stroke-width="1.0" />
<circle cx="820" cy="149.3" r="1.2" fill="#111"/>
<circle cx="820" cy="207.8" r="1.2" fill="#111"/>
<circle cx="820" cy="265.6" r="1.2" fill="#111"/>
<line x1="810.5" y1="188.5" x2="817" y2="188.5" stroke="#111" stroke-width="0.9" />
<line x1="810.5" y1="256.5" x2="817" y2="256.5" stroke="#111" stroke-width="0.9" />
<text x="815" y="180.90" font-size="9.45" fill="#1c1c28" stroke="#1c1c28" stroke-width="0.25" font-weight="normal" transform="rotate(-90 815 177.5)" ><tspan x="803.50" font-size="9.45" textLength="3.75" lengthAdjust="spacingAndGlyphs">1</tspan><tspan x="808.88" font-size="9.45" textLength="2.63" lengthAdjust="spacingAndGlyphs">,</tspan><tspan x="813.12" font-size="9.45" textLength="3.75" lengthAdjust="spacingAndGlyphs">0</tspan><tspan x="817.94" font-size="9.45" textLength="3.75" lengthAdjust="spacingAndGlyphs">2</tspan><tspan x="822.75" font-size="9.45" textLength="3.75" lengthAdjust="spacingAndGlyphs">0</tspan></text>
<text x="814" y="244.60" font-size="9.45" fill="#1c1c28" stroke="#1c1c28" stroke-width="0.25" font-weight="normal" transform="rotate(-90 814 241.2)" ><tspan x="807.25" font-size="9.45" textLength="3.79" lengthAdjust="spacingAndGlyphs">6</tspan><tspan x="812.11" font-size="9.45" textLength="3.79" lengthAdjust="spacingAndGlyphs">0</tspan><tspan x="816.96" font-size="9.45" textLength="3.79" lengthAdjust="spacingAndGlyphs">0</tspan></text>
<line x1="700.75" y1="266" x2="897.5" y2="266" stroke="#111" stroke-width="2.0" />
<path d="M 702,266 V 290 H 708 V 293" stroke="#111" stroke-width="1.6" fill="none" />
<line x1="708.5" y1="272" x2="897.5" y2="272" stroke="#111" stroke-width="1.6" />
<line x1="708" y1="272.5" x2="708" y2="293.1" stroke="#111" stroke-width="1.6" />
<line x1="708.5" y1="293.5" x2="897.5" y2="293.5" stroke="#111" stroke-width="1.0" />
<line x1="712.5" y1="272.5" x2="712.5" y2="293.1" stroke="#222" stroke-width="1.0" />
<line x1="718.5" y1="272.5" x2="718.5" y2="293.1" stroke="#222" stroke-width="1.0" />
<line x1="723.5" y1="272.5" x2="723.5" y2="293.1" stroke="#222" stroke-width="1.0" />
<line x1="729.5" y1="272.5" x2="729.5" y2="293.1" stroke="#222" stroke-width="1.0" />
<line x1="735.5" y1="272.5" x2="735.5" y2="293.1" stroke="#222" stroke-width="1.0" />
<line x1="741.5" y1="272.5" x2="741.5" y2="293.1" stroke="#222" stroke-width="1.0" />
<line x1="747.5" y1="272.5" x2="747.5" y2="293.1" stroke="#222" stroke-width="1.0" />
<line x1="752.5" y1="272.5" x2="752.5" y2="293.1" stroke="#222" stroke-width="1.0" />
<line x1="758.5" y1="272.5" x2="758.5" y2="293.1" stroke="#222" stroke-width="1.0" />
<line x1="764.5" y1="272.5" x2="764.5" y2="293.1" stroke="#222" stroke-width="1.0" />
<line x1="770.5" y1="272.5" x2="770.5" y2="293.1" stroke="#222" stroke-width="1.0" />
<line x1="776.5" y1="272.5" x2="776.5" y2="293.1" stroke="#222" stroke-width="1.0" />
<line x1="781.5" y1="272.5" x2="781.5" y2="293.1" stroke="#222" stroke-width="1.0" />
<line x1="787.5" y1="272.5" x2="787.5" y2="293.1" stroke="#222" stroke-width="1.0" />
<line x1="793.5" y1="272.5" x2="793.5" y2="293.1" stroke="#222" stroke-width="1.0" />
<line x1="799.5" y1="272.5" x2="799.5" y2="293.1" stroke="#222" stroke-width="1.0" />
<line x1="805.5" y1="272.5" x2="805.5" y2="293.1" stroke="#222" stroke-width="1.0" />
<line x1="810.5" y1="272.5" x2="810.5" y2="293.1" stroke="#222" stroke-width="1.0" />
<line x1="816.5" y1="272.5" x2="816.5" y2="293.1" stroke="#222" stroke-width="1.0" />
<line x1="822.5" y1="272.5" x2="822.5" y2="293.1" stroke="#222" stroke-width="1.0" />
<line x1="828.5" y1="272.5" x2="828.5" y2="293.1" stroke="#222" stroke-width="1.0" />
<line x1="834.5" y1="272.5" x2="834.5" y2="293.1" stroke="#222" stroke-width="1.0" />
<line x1="839.5" y1="272.5" x2="839.5" y2="293.1" stroke="#222" stroke-width="1.0" />
<line x1="845.5" y1="272.5" x2="845.5" y2="293.1" stroke="#222" stroke-width="1.0" />
<line x1="851.5" y1="272.5" x2="851.5" y2="293.1" stroke="#222" stroke-width="1.0" />
<line x1="857.5" y1="272.5" x2="857.5" y2="293.1" stroke="#222" stroke-width="1.0" />
<line x1="863.5" y1="272.5" x2="863.5" y2="293.1" stroke="#222" stroke-width="1.0" />
<line x1="868.5" y1="272.5" x2="868.5" y2="293.1" stroke="#222" stroke-width="1.0" />
<line x1="874.5" y1="272.5" x2="874.5" y2="293.1" stroke="#222" stroke-width="1.0" />
<line x1="880.5" y1="272.5" x2="880.5" y2="293.1" stroke="#222" stroke-width="1.0" />
<line x1="886.5" y1="272.5" x2="886.5" y2="293.1" stroke="#222" stroke-width="1.0" />
<line x1="892.5" y1="272.5" x2="892.5" y2="293.1" stroke="#222" stroke-width="1.0" />
<path d="M732.5,268.8 L746.3,288.8 H767.5" stroke="#111" stroke-width="1.0" fill="none" />
<text x="755.6" y="287.03" font-size="9.97" fill="#1c1c28" stroke="#1c1c28" stroke-width="0.25" font-weight="normal" ><tspan x="746.03" font-size="8.07">腰</tspan><tspan x="757.10" font-size="8.07">壁</tspan></text>
<line x1="823.5" y1="266" x2="823.5" y2="326.3" stroke="#111" stroke-width="1.0" />
<circle cx="823.5" cy="293.1" r="1.2" fill="#111"/>
<circle cx="823.5" cy="326.3" r="1.2" fill="#111"/>
<text x="818.3" y="286.09" font-size="9.97" fill="#1c1c28" stroke="#1c1c28" stroke-width="0.25" font-weight="normal" transform="rotate(-90 818.3 282.5)" ><tspan x="810.30" font-size="9.97" textLength="4.49" lengthAdjust="spacingAndGlyphs">3</tspan><tspan x="816.06" font-size="9.97" textLength="4.49" lengthAdjust="spacingAndGlyphs">0</tspan><tspan x="821.81" font-size="9.97" textLength="4.49" lengthAdjust="spacingAndGlyphs">0</tspan></text>
<text x="818.3" y="314.39" font-size="9.97" fill="#1c1c28" stroke="#1c1c28" stroke-width="0.25" font-weight="normal" transform="rotate(-90 818.3 310.8)" ><tspan x="811.30" font-size="9.97" textLength="3.93" lengthAdjust="spacingAndGlyphs">5</tspan><tspan x="816.34" font-size="9.97" textLength="3.93" lengthAdjust="spacingAndGlyphs">7</tspan><tspan x="821.37" font-size="9.97" textLength="3.93" lengthAdjust="spacingAndGlyphs">0</tspan></text>
<text x="841" y="287.73" font-size="9.97" fill="#1c1c28" stroke="#1c1c28" stroke-width="0.25" font-weight="normal" ><tspan x="827.30" font-size="8.07">ベ</tspan><tspan x="836.97" font-size="8.07">ン</tspan><tspan x="846.63" font-size="8.07">チ</tspan></text>
<line x1="898" y1="214.8" x2="898" y2="318.75" stroke="#111" stroke-width="1.6" />
<path d="M 904.5,318.5 V 221.5 H 1042.5" stroke="#111" stroke-width="1.0" fill="none" />
<path d="M 907,319 V 224 H 1042" stroke="#111" stroke-width="1.6" fill="none" />
<text x="976" y="263.23" font-size="9.97" fill="#1c1c28" stroke="#1c1c28" stroke-width="0.25" font-weight="normal" ><tspan x="961.65" font-size="8.07">機</tspan><tspan x="971.97" font-size="8.07">械</tspan><tspan x="982.28" font-size="8.07">室</tspan></text>
<text x="972.6" y="284.09" font-size="9.97" fill="#1c1c28" stroke="#1c1c28" stroke-width="0.25" font-weight="normal" ><tspan x="963.10" font-size="9.97" textLength="3.92" lengthAdjust="spacingAndGlyphs">F</tspan><tspan x="968.13" font-size="9.97" textLength="3.92" lengthAdjust="spacingAndGlyphs">L</tspan><tspan x="973.15" font-size="9.97" textLength="3.92" lengthAdjust="spacingAndGlyphs">+</tspan><tspan x="978.18" font-size="9.97" textLength="3.92" lengthAdjust="spacingAndGlyphs">0</tspan></text>
<path d="M 885,320 H 948 V 312 H 966 V 379 H 1008 V 333 H 1056" stroke="#111" stroke-width="1.5" fill="none" />
<path d="M 885,333 H 953 V 393 H 1021 V 333" stroke="#111" stroke-width="1.5" fill="none" />
<rect x="1007.5" y="333.5" width="11" height="45" stroke="#111" stroke-width="1.3" fill="none" />
<line x1="1022.5" y1="333.3" x2="1022.5" y2="393" stroke="#111" stroke-width="1.0" />
<line x1="1022.4" y1="335.5" x2="1064.5" y2="335.5" stroke="#111" stroke-width="1.0" />
<path d="M1064.5,335.5 A42.1,42 0 0 1 1022.4,377.5" stroke="#111" stroke-width="1.0" fill="none" />
<path d="M1032,356.5 L1025.6,359.5 L1032,362.5 Z" fill="#111"/>
<text x="1038" y="372.63" font-size="9.97" fill="#1c1c28" stroke="#1c1c28" stroke-width="0.25" font-weight="normal" ><tspan x="1023.80" font-size="8.07">出</tspan><tspan x="1033.96" font-size="8.07">入</tspan><tspan x="1044.13" font-size="8.07">口</tspan></text>
<text x="1060.5" y="361.59" font-size="9.97" fill="#1c1c28" stroke="#1c1c28" stroke-width="0.25" font-weight="normal" transform="rotate(-90 1060.5 358)" ><tspan x="1047.00" font-size="9.97" textLength="4.41" lengthAdjust="spacingAndGlyphs">H</tspan><tspan x="1052.65" font-size="9.97" textLength="4.41" lengthAdjust="spacingAndGlyphs">1</tspan><tspan x="1058.30" font-size="9.97" textLength="4.41" lengthAdjust="spacingAndGlyphs">8</tspan><tspan x="1063.95" font-size="9.97" textLength="4.41" lengthAdjust="spacingAndGlyphs">4</tspan><tspan x="1069.59" font-size="9.97" textLength="4.41" lengthAdjust="spacingAndGlyphs">5</tspan></text>
<text x="1072.2" y="372.58" font-size="10.5" fill="#1c1c28" stroke="#1c1c28" stroke-width="0.25" font-weight="normal" ><tspan x="1069.20" font-size="10.5" textLength="6.00" lengthAdjust="spacingAndGlyphs">=</tspan></text>
<line x1="461" y1="327.5" x2="885" y2="327.5" stroke="#111" stroke-width="1.4" />
<line x1="461" y1="333.5" x2="885" y2="333.5" stroke="#111" stroke-width="1.4" />
<line x1="571.5" y1="332" x2="624.75" y2="332" stroke="#111" stroke-width="2.0" />
<line x1="722" y1="332" x2="775" y2="332" stroke="#111" stroke-width="2.0" />
<rect x="515.5" y="327.5" width="3" height="6" stroke="#111" stroke-width="0.9" fill="#fff" />
<rect x="570.5" y="327.5" width="3" height="6" stroke="#111" stroke-width="0.9" fill="#fff" />
<rect x="623.5" y="327.5" width="3" height="6" stroke="#111" stroke-width="0.9" fill="#fff" />
<rect x="720.5" y="327.5" width="3" height="6" stroke="#111" stroke-width="0.9" fill="#fff" />
<rect x="773.5" y="327.5" width="3" height="6" stroke="#111" stroke-width="0.9" fill="#fff" />
<rect x="828.5" y="327.5" width="3" height="6" stroke="#111" stroke-width="0.9" fill="#fff" />
<rect x="883.5" y="327.5" width="3" height="6" stroke="#111" stroke-width="0.9" fill="#fff" />
<rect x="797.5" y="343.5" width="75" height="6" stroke="#111" stroke-width="1.1" fill="none" />
<line x1="775" y1="346.5" x2="886.3" y2="346.5" stroke="#111" stroke-width="0.9" stroke-dasharray="8,2,1,2"/>
<circle cx="800.5" cy="359.3" r="9" stroke="#111" stroke-width="1.2" fill="none"/>
<circle cx="869.5" cy="359.3" r="9" stroke="#111" stroke-width="1.2" fill="none"/>
<line x1="803.5" y1="343.75" x2="803.5" y2="349.25" stroke="#111" stroke-width="1.0" />
<line x1="866.5" y1="343.75" x2="866.5" y2="349.25" stroke="#111" stroke-width="1.0" />
<text x="834.4" y="370.73" font-size="9.97" fill="#1c1c28" stroke="#1c1c28" stroke-width="0.25" font-weight="normal" ><tspan x="809.83" font-size="8.07">桶</tspan><tspan x="820.10" font-size="8.07">シ</tspan><tspan x="830.37" font-size="8.07">ャ</tspan><tspan x="840.63" font-size="8.07">ワ</tspan><tspan x="850.90" font-size="8.07">ー</tspan></text>
<path d="M 367.5,563.5 H 1021.5 V 393.5" stroke="#111" stroke-width="1.2" fill="none" />
<path d="M 369.5,338.5 V 561.5 H 1019.5 V 399.5" stroke="#111" stroke-width="1.0" fill="none" />
<line x1="375.5" y1="338" x2="375.5" y2="563.4" stroke="#444" stroke-width="1.0" />
<line x1="1013.5" y1="399.4" x2="1013.5" y2="563.4" stroke="#444" stroke-width="1.0" />
<line x1="367.5" y1="555.5" x2="1021.4" y2="555.5" stroke="#444" stroke-width="1.0" />
<line x1="369" y1="338.5" x2="375.3" y2="338.5" stroke="#111" stroke-width="1.0" />
<rect x="369.5" y="445.5" width="6" height="5" stroke="#111" stroke-width="1.0" fill="#fff" />
<rect x="1013.5" y="445.5" width="6" height="5" stroke="#111" stroke-width="1.0" fill="#fff" />
<rect x="481.5" y="555.5" width="6" height="6" stroke="#111" stroke-width="1.0" fill="#fff" />
<rect x="597.5" y="555.5" width="6" height="6" stroke="#111" stroke-width="1.0" fill="#fff" />
<rect x="713.5" y="555.5" width="6" height="6" stroke="#111" stroke-width="1.0" fill="#fff" />
<rect x="828.5" y="555.5" width="6" height="6" stroke="#111" stroke-width="1.0" fill="#fff" />
<rect x="1013.5" y="393.5" width="6" height="6" stroke="#111" stroke-width="1.0" fill="#fff" />
<line x1="344.5" y1="341.2" x2="344.5" y2="558.75" stroke="#111" stroke-width="1.0" />
<line x1="344.2" y1="558.5" x2="359.4" y2="558.5" stroke="#111" stroke-width="1.0" />
<circle cx="344.5" cy="558.75" r="1.2" fill="#111"/>
<line x1="344.2" y1="341.5" x2="358.75" y2="341.5" stroke="#111" stroke-width="1.0" />
<circle cx="344.5" cy="341.7" r="1.2" fill="#111"/>
<text x="338.3" y="453.29" font-size="9.97" fill="#333" stroke="#333" stroke-width="0.1" font-weight="normal" transform="rotate(-90 338.3 449.7)" ><tspan x="326.40" font-size="9.97" textLength="3.88" lengthAdjust="spacingAndGlyphs">3</tspan><tspan x="331.94" font-size="9.97" textLength="2.77" lengthAdjust="spacingAndGlyphs">,</tspan><tspan x="336.36" font-size="9.97" textLength="3.88" lengthAdjust="spacingAndGlyphs">7</tspan><tspan x="341.34" font-size="9.97" textLength="3.88" lengthAdjust="spacingAndGlyphs">7</tspan><tspan x="346.32" font-size="9.97" textLength="3.88" lengthAdjust="spacingAndGlyphs">0</tspan></text>
<rect x="403.5" y="346.5" width="173" height="174" stroke="#222" stroke-width="1.0" fill="none" stroke-dasharray="24,3,1.2,2.5,1.2,2.6" stroke-dashoffset="11.5"/>
<line x1="425.5" y1="346.8" x2="425.5" y2="520" stroke="#111" stroke-width="1.0" />
<circle cx="425" cy="520" r="1.2" fill="#111"/>
<line x1="425" y1="520.5" x2="433" y2="520.5" stroke="#111" stroke-width="1.0" />
<line x1="403.2" y1="479.5" x2="576.2" y2="479.5" stroke="#111" stroke-width="1.0" />
<circle cx="403.2" cy="479.3" r="1.2" fill="#111"/>
<circle cx="576.2" cy="479.3" r="1.2" fill="#111"/>
<text x="489.75" y="476.89" font-size="9.97" fill="#1c1c28" stroke="#1c1c28" stroke-width="0.25" font-weight="normal" ><tspan x="477.50" font-size="9.97" textLength="4.00" lengthAdjust="spacingAndGlyphs">3</tspan><tspan x="483.24" font-size="9.97" textLength="2.77" lengthAdjust="spacingAndGlyphs">,</tspan><tspan x="487.75" font-size="9.97" textLength="4.00" lengthAdjust="spacingAndGlyphs">0</tspan><tspan x="492.88" font-size="9.97" textLength="4.00" lengthAdjust="spacingAndGlyphs">0</tspan><tspan x="498.00" font-size="9.97" textLength="4.00" lengthAdjust="spacingAndGlyphs">0</tspan></text>
<text x="419.5" y="437.39" font-size="9.97" fill="#1c1c28" stroke="#1c1c28" stroke-width="0.25" font-weight="normal" transform="rotate(-90 419.5 433.8)" ><tspan x="407.25" font-size="9.97" textLength="4.00" lengthAdjust="spacingAndGlyphs">3</tspan><tspan x="412.99" font-size="9.97" textLength="2.77" lengthAdjust="spacingAndGlyphs">,</tspan><tspan x="417.50" font-size="9.97" textLength="4.00" lengthAdjust="spacingAndGlyphs">0</tspan><tspan x="422.63" font-size="9.97" textLength="4.00" lengthAdjust="spacingAndGlyphs">0</tspan><tspan x="427.75" font-size="9.97" textLength="4.00" lengthAdjust="spacingAndGlyphs">0</tspan></text>
<text x="489.1" y="422.03" font-size="9.97" fill="#1c1c28" stroke="#1c1c28" stroke-width="0.25" font-weight="normal" ><tspan x="459.28" font-size="8.07">サ</tspan><tspan x="469.59" font-size="8.07">ウ</tspan><tspan x="479.91" font-size="8.07">ナ</tspan><tspan x="490.22" font-size="8.07">ド</tspan><tspan x="500.54" font-size="8.07">ー</tspan><tspan x="510.85" font-size="8.07">ム</tspan></text>
<rect x="649.5" y="433.5" width="24" height="5" stroke="#222" stroke-width="1.0" fill="none" />
<line x1="649.3" y1="435.5" x2="673.3" y2="435.5" stroke="#555" stroke-width="0.6" />
<rect x="650.5" y="438.5" width="22" height="21" stroke="#222" stroke-width="1.0" fill="none" />
<rect x="718.5" y="433.5" width="24" height="5" stroke="#222" stroke-width="1.0" fill="none" />
<line x1="718.8" y1="435.5" x2="742.8" y2="435.5" stroke="#555" stroke-width="0.6" />
<rect x="720.5" y="438.5" width="21" height="21" stroke="#222" stroke-width="1.0" fill="none" />
<rect x="788.5" y="433.5" width="24" height="5" stroke="#222" stroke-width="1.0" fill="none" />
<line x1="788" y1="435.5" x2="812" y2="435.5" stroke="#555" stroke-width="0.6" />
<rect x="789.5" y="438.5" width="21" height="21" stroke="#222" stroke-width="1.0" fill="none" />
<rect x="649.5" y="502.5" width="24" height="4" stroke="#222" stroke-width="1.0" fill="none" />
<line x1="649.3" y1="504.5" x2="673.3" y2="504.5" stroke="#555" stroke-width="0.6" />
<rect x="650.5" y="506.5" width="22" height="22" stroke="#222" stroke-width="1.0" fill="none" />
<rect x="718.5" y="502.5" width="24" height="4" stroke="#222" stroke-width="1.0" fill="none" />
<line x1="718.8" y1="504.5" x2="742.8" y2="504.5" stroke="#555" stroke-width="0.6" />
<rect x="720.5" y="506.5" width="21" height="22" stroke="#222" stroke-width="1.0" fill="none" />
<rect x="788.5" y="502.5" width="24" height="4" stroke="#222" stroke-width="1.0" fill="none" />
<line x1="788" y1="504.5" x2="812" y2="504.5" stroke="#555" stroke-width="0.6" />
<rect x="789.5" y="506.5" width="21" height="22" stroke="#222" stroke-width="1.0" fill="none" />
<rect x="890.5" y="418.5" width="116" height="115" stroke="#222" stroke-width="1.0" fill="none" stroke-dasharray="24,3,1.2,2.5,1.2,2.6" stroke-dashoffset="11.5"/>
<text x="941.4" y="453.23" font-size="9.97" fill="#1c1c28" stroke="#1c1c28" stroke-width="0.25" font-weight="normal" ><tspan x="911.58" font-size="8.07">バ</tspan><tspan x="921.89" font-size="8.07">レ</tspan><tspan x="932.21" font-size="8.07">ル</tspan><tspan x="942.52" font-size="8.07">サ</tspan><tspan x="952.84" font-size="8.07">ウ</tspan><tspan x="963.15" font-size="8.07">ナ</tspan></text>
<text x="939.75" y="487.39" font-size="9.97" fill="#1c1c28" stroke="#1c1c28" stroke-width="0.25" font-weight="normal" ><tspan x="917.25" font-size="9.97" textLength="4.00" lengthAdjust="spacingAndGlyphs">2</tspan><tspan x="922.38" font-size="9.97" textLength="4.00" lengthAdjust="spacingAndGlyphs">0</tspan><tspan x="927.50" font-size="9.97" textLength="4.00" lengthAdjust="spacingAndGlyphs">0</tspan><tspan x="932.63" font-size="9.97" textLength="4.00" lengthAdjust="spacingAndGlyphs">0</tspan><tspan x="937.81" font-size="9.97" textLength="3.88" lengthAdjust="spacingAndGlyphs">*</tspan><tspan x="942.88" font-size="9.97" textLength="4.00" lengthAdjust="spacingAndGlyphs">2</tspan><tspan x="948.00" font-size="9.97" textLength="4.00" lengthAdjust="spacingAndGlyphs">0</tspan><tspan x="953.13" font-size="9.97" textLength="4.00" lengthAdjust="spacingAndGlyphs">0</tspan><tspan x="958.25" font-size="9.97" textLength="4.00" lengthAdjust="spacingAndGlyphs">0</tspan></text>
<line x1="372.5" y1="573" x2="372.5" y2="591" stroke="#111" stroke-width="1.1" />
<line x1="1016.5" y1="573" x2="1016.5" y2="591" stroke="#111" stroke-width="1.1" />
<path d="M616.5,562.5 L631.5,585.8 H737.8" stroke="#111" stroke-width="1.0" fill="none" />
<text x="681.75" y="582.73" font-size="9.97" fill="#1c1c28" stroke="#1c1c28" stroke-width="0.25" font-weight="normal" ><tspan x="634.19" font-size="8.07">目</tspan><tspan x="644.50" font-size="8.07">隠</tspan><tspan x="654.82" font-size="8.07">し</tspan><tspan x="665.13" font-size="8.07">フ</tspan><tspan x="675.45" font-size="8.07">ェ</tspan><tspan x="685.77" font-size="8.07">ン</tspan><tspan x="696.08" font-size="8.07">ス</tspan><tspan x="705.83" font-size="9.97" textLength="3.93" lengthAdjust="spacingAndGlyphs">H</tspan><tspan x="710.86" font-size="9.97" textLength="3.93" lengthAdjust="spacingAndGlyphs">2</tspan><tspan x="715.89" font-size="9.97" textLength="3.93" lengthAdjust="spacingAndGlyphs">0</tspan><tspan x="720.93" font-size="9.97" textLength="3.93" lengthAdjust="spacingAndGlyphs">0</tspan><tspan x="725.96" font-size="9.97" textLength="3.93" lengthAdjust="spacingAndGlyphs">0</tspan></text>
</svg></body></html>
